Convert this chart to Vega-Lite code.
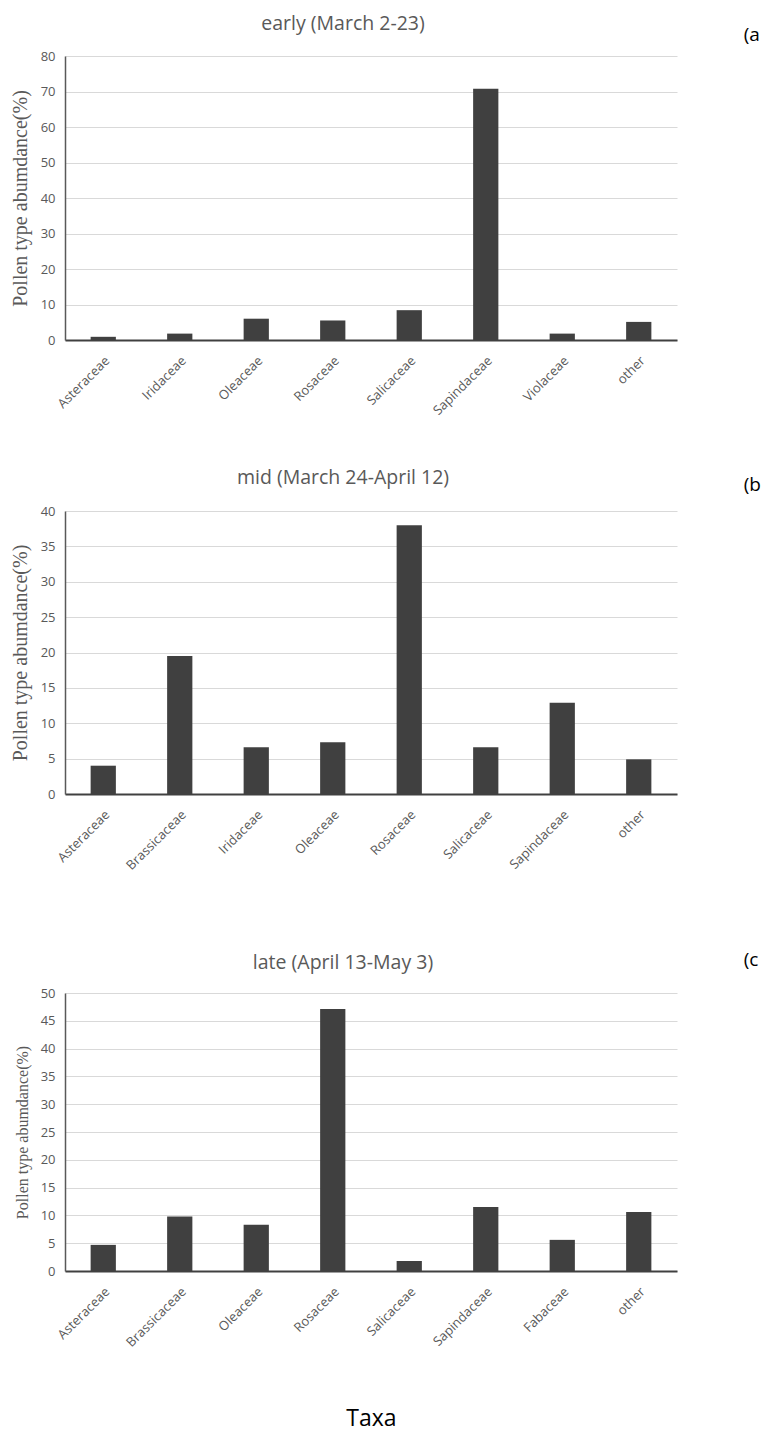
{
  "$schema": "https://vega.github.io/schema/vega-lite/v6.json",
  "padding": {"left": 10, "top": 13, "right": 0, "bottom": 0},
  "background": "white",
  "datasets": {
    "early": [
      {"taxon": "Asteraceae", "abundance": 0.9},
      {"taxon": "Iridaceae", "abundance": 1.8},
      {"taxon": "Oleaceae", "abundance": 6.0},
      {"taxon": "Rosaceae", "abundance": 5.5},
      {"taxon": "Salicaceae", "abundance": 8.4},
      {"taxon": "Sapindaceae", "abundance": 70.8},
      {"taxon": "Violaceae", "abundance": 1.8},
      {"taxon": "other", "abundance": 5.1}
    ],
    "mid": [
      {"taxon": "Asteraceae", "abundance": 4.0},
      {"taxon": "Brassicaceae", "abundance": 19.5},
      {"taxon": "Iridaceae", "abundance": 6.6},
      {"taxon": "Oleaceae", "abundance": 7.3},
      {"taxon": "Rosaceae", "abundance": 38.0},
      {"taxon": "Salicaceae", "abundance": 6.6},
      {"taxon": "Sapindaceae", "abundance": 12.9},
      {"taxon": "other", "abundance": 4.9}
    ],
    "late": [
      {"taxon": "Asteraceae", "abundance": 4.7},
      {"taxon": "Brassicaceae", "abundance": 9.8},
      {"taxon": "Oleaceae", "abundance": 8.3},
      {"taxon": "Rosaceae", "abundance": 47.1},
      {"taxon": "Salicaceae", "abundance": 1.8},
      {"taxon": "Sapindaceae", "abundance": 11.5},
      {"taxon": "Fabaceae", "abundance": 5.6},
      {"taxon": "other", "abundance": 10.6}
    ]
  },
  "config": {
    "view": {"stroke": null},
    "title": {"font": "Open Sans", "fontSize": 19.5, "fontWeight": "normal", "color": "#595959", "anchor": "middle", "frame": "group", "dx": -28},
    "axis": {"labelFont": "Open Sans", "labelColor": "#595959", "labelFontSize": 13, "ticks": false, "titleFont": "Liberation Serif", "titleFontWeight": "normal", "titleColor": "#595959", "labelOverlap": false},
    "axisY": {"gridColor": "#d9d9d9", "domainColor": "#595959", "domainWidth": 1.5, "labelPadding": 10, "titleFontSize": 20, "titlePadding": 10},
    "axisX": {"domainColor": "#404040", "domainWidth": 2, "grid": false, "labelAngle": -45, "labelPadding": 14}
  },
  "spacing": 78,
  "vconcat": [
    {
      "spacing": 49,
      "vconcat": [
        {
          "title": {"text": "early (March 2-23)", "offset": -8},
          "width": 612,
          "height": 284,
          "layer": [
            {
              "data": {"name": "early"},
              "mark": {"type": "bar", "color": "#404040", "width": {"band": 0.33}},
              "encoding": {
                "x": {"field": "taxon", "type": "nominal", "sort": null, "scale": {"paddingInner": 0, "paddingOuter": 0}, "axis": {"title": null}},
                "y": {"field": "abundance", "type": "quantitative", "scale": {"domain": [0, 80]}, "axis": {"title": "Pollen type abumdance(%)", "values": [0, 10, 20, 30, 40, 50, 60, 70, 80]}}
              }
            },
            {
              "data": {"values": [{"tag": "(a"}]},
              "mark": {"type": "text", "font": "Open Sans", "fontSize": 19, "color": "#000000", "align": "left", "baseline": "middle", "dx": 105, "dy": -21},
              "encoding": {
                "text": {"field": "tag"},
                "x": {"datum": "other"},
                "y": {"datum": 80, "type": "quantitative", "axis": {"title": "Pollen type abumdance(%)", "values": [0, 10, 20, 30, 40, 50, 60, 70, 80]}}
              }
            }
          ]
        },
        {
          "title": {"text": "mid (March 24-April 12)", "offset": -12},
          "width": 612,
          "height": 283,
          "layer": [
            {
              "data": {"name": "mid"},
              "mark": {"type": "bar", "color": "#404040", "width": {"band": 0.33}},
              "encoding": {
                "x": {"field": "taxon", "type": "nominal", "sort": null, "scale": {"paddingInner": 0, "paddingOuter": 0}, "axis": {"title": null}},
                "y": {"field": "abundance", "type": "quantitative", "scale": {"domain": [0, 40]}, "axis": {"title": "Pollen type abumdance(%)", "values": [0, 5, 10, 15, 20, 25, 30, 35, 40]}}
              }
            },
            {
              "data": {"values": [{"tag": "(b"}]},
              "mark": {"type": "text", "font": "Open Sans", "fontSize": 19, "color": "#000000", "align": "left", "baseline": "middle", "dx": 105, "dy": -26},
              "encoding": {
                "text": {"field": "tag"},
                "x": {"datum": "other"},
                "y": {"datum": 40, "type": "quantitative", "axis": {"title": "Pollen type abumdance(%)", "values": [0, 5, 10, 15, 20, 25, 30, 35, 40]}}
              }
            }
          ]
        }
      ]
    },
    {
      "title": {"text": "late (April 13-May 3)", "offset": -22},
      "width": 612,
      "height": 278,
      "layer": [
        {
          "data": {"name": "late"},
          "mark": {"type": "bar", "color": "#404040", "width": {"band": 0.33}},
          "encoding": {
            "x": {"field": "taxon", "type": "nominal", "sort": null, "scale": {"paddingInner": 0, "paddingOuter": 0}, "axis": {"title": "Taxa", "titleFont": "Open Sans", "titleFontSize": 23, "titleColor": "#000000", "titlePadding": 58}},
            "y": {"field": "abundance", "type": "quantitative", "scale": {"domain": [0, 50]}, "axis": {"title": "Pollen type abumdance(%)", "titleFontSize": 16, "values": [0, 5, 10, 15, 20, 25, 30, 35, 40, 45, 50]}}
          }
        },
        {
          "data": {"values": [{"tag": "(c"}]},
          "mark": {"type": "text", "font": "Open Sans", "fontSize": 19, "color": "#000000", "align": "left", "baseline": "middle", "dx": 105, "dy": -33},
          "encoding": {
            "text": {"field": "tag"},
            "x": {"datum": "other"},
            "y": {"datum": 50, "type": "quantitative", "axis": {"title": "Pollen type abumdance(%)", "titleFontSize": 16, "values": [0, 5, 10, 15, 20, 25, 30, 35, 40, 45, 50]}}
          }
        }
      ]
    }
  ]
}
